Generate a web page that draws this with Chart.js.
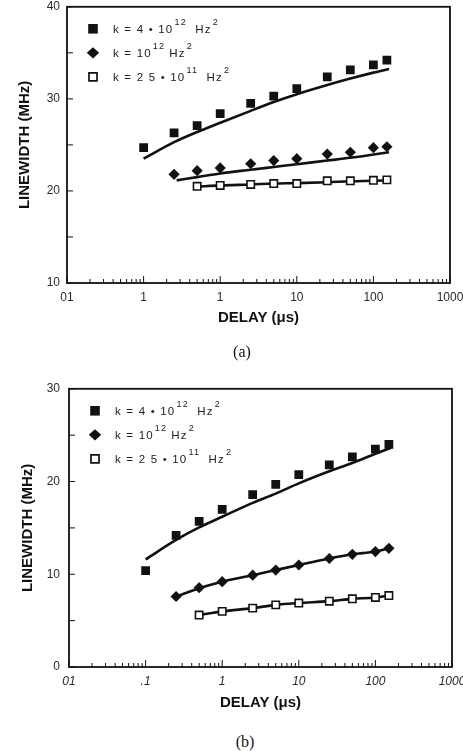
<!DOCTYPE html>
<html>
<head>
<meta charset="utf-8">
<title>Linewidth vs delay</title>
<script src="https://cdn.jsdelivr.net/npm/chart.js@4.4.1/dist/chart.umd.min.js"></script>
<style>
  body { margin: 0; background: #fff; width: 463px; height: 751px; position: relative; overflow: hidden; }
  .panel { position: absolute; left: 0; width: 463px; height: 345px; }
  #panelA { top: 0; }
  #panelB { top: 382px; }
  .caption { position: absolute; width: 40px; text-align: center; line-height: 18px;
             font-family: 'Liberation Serif', 'Times New Roman', serif; font-size: 16px; color: #111; }
</style>
</head>
<body>
<div class="panel" id="panelA"><canvas id="chartA"></canvas></div>
<div class="caption" style="left:222px; top:343px;">(a)</div>
<div class="panel" id="panelB"><canvas id="chartB"></canvas></div>
<div class="caption" style="left:225px; top:733px;">(b)</div>
<script>
// delays (µs) at which each k was measured
const delayK4   = [0.1, 0.25, 0.5, 1, 2.5, 5, 10, 25, 50, 100, 150];
const delayK1   = [0.25, 0.5, 1, 2.5, 5, 10, 25, 50, 100, 150];
const delayK025 = [0.5, 1, 2.5, 5, 10, 25, 50, 100, 150];

// delays used for the model curves
const fitDelayK4   = [0.1, 0.25, 0.5, 1, 2.5, 5, 10, 25, 50, 100, 160];
const fitDelayK1   = [0.27, 0.5, 1, 2.5, 5, 10, 25, 50, 100, 160];
const fitDelayK025 = [0.5, 1, 2.5, 5, 10, 25, 50, 100, 160];

// panel (a): measured linewidth, MHz
const widthA_k4   = [24.7, 26.3, 27.1, 28.4, 29.5, 30.3, 31.1, 32.4, 33.15, 33.7, 34.2];
const widthA_k1   = [21.8, 22.2, 22.5, 22.95, 23.3, 23.5, 24.0, 24.2, 24.7, 24.8];
const widthA_k025 = [20.5, 20.6, 20.7, 20.8, 20.8, 21.1, 21.1, 21.15, 21.2];
// panel (a): model
const fitA_k4   = [23.5, 25.3, 26.4, 27.4, 28.7, 29.65, 30.5, 31.5, 32.2, 32.85, 33.25];
const fitA_k1   = [21.15, 21.5, 21.9, 22.3, 22.6, 22.9, 23.3, 23.6, 23.95, 24.2];
const fitA_k025 = [20.45, 20.6, 20.7, 20.8, 20.85, 20.95, 21.05, 21.1, 21.15];

// panel (b): measured linewidth, MHz
const widthB_k4   = [10.4, 14.2, 15.7, 17.0, 18.6, 19.7, 20.75, 21.8, 22.65, 23.5, 24.0];
const widthB_k1   = [7.6, 8.55, 9.2, 9.9, 10.45, 11.0, 11.7, 12.15, 12.45, 12.8];
const widthB_k025 = [5.6, 6.0, 6.35, 6.7, 6.9, 7.1, 7.35, 7.5, 7.7];
// panel (b): model
const fitB_k4   = [11.6, 13.7, 15.05, 16.2, 17.7, 18.7, 19.8, 21.1, 22.0, 23.0, 23.65];
const fitB_k1   = [7.6, 8.5, 9.2, 9.9, 10.45, 11.0, 11.7, 12.15, 12.45, 12.8];
const fitB_k025 = [5.6, 6.0, 6.35, 6.7, 6.9, 7.1, 7.35, 7.5, 7.7];

// axis ticks
const xTickValues = [0.01, 0.1, 1, 10, 100, 1000];
const xTickLabelsA = ['01', '1', '1', '10', '100', '1000'];
const xTickLabelsB = ['01', '.1', '1', '10', '100', '1000'];

// legend rows: marker + text pieces (sup = superscript)
const legendRows = [
  { marker: 'square', parts: [['k = 4 \u2022 10'], ['12', 'sup'], [' Hz'], ['2', 'sup']] },
  { marker: 'diamond', parts: [['k = 10'], ['12', 'sup'], ['Hz'], ['2', 'sup']] },
  { marker: 'open', parts: [['k = 2 5 \u2022 10'], ['11', 'sup'], [' Hz'], ['2', 'sup']] }
];

const INK = '#111';
const SANS = "'Liberation Sans', Arial, Helvetica, sans-serif";

const pts = (xs, ys) => xs.map((x, i) => ({ x, y: ys[i] }));

/* Frame, inward ticks and the in-plot legend */
const framePlugin = {
  id: 'frame',
  afterDraw(chart) {
    const ctx = chart.ctx;
    const { left, right, top, bottom } = chart.chartArea;
    const xs = chart.scales.x, ys = chart.scales.y;
    ctx.save();
    ctx.strokeStyle = INK;

    // inward ticks on the log axis
    ctx.lineWidth = 1;
    const e0 = Math.round(Math.log10(xs.min)), e1 = Math.round(Math.log10(xs.max));
    for (let e = e0; e <= e1; e++) {
      for (let m = 1; m < 10; m++) {
        const v = m * Math.pow(10, e);
        if (v > xs.max) break;
        const px = xs.getPixelForValue(v);
        const len = m === 1 ? 7 : 4;
        ctx.beginPath();
        ctx.moveTo(px, bottom);
        ctx.lineTo(px, bottom - len);
        ctx.stroke();
      }
    }
    // inward ticks every 5 MHz
    for (let v = ys.min; v <= ys.max; v += 5) {
      const py = ys.getPixelForValue(v);
      ctx.beginPath();
      ctx.moveTo(left, py);
      ctx.lineTo(left + 6, py);
      ctx.stroke();
    }

    // box
    ctx.lineWidth = 1.8;
    ctx.strokeRect(left, top, right - left, bottom - top);

    // legend
    legendRows.forEach((row, i) => {
      const cy = top + 22 + i * 24;
      const mx = left + 26;
      ctx.fillStyle = INK;
      ctx.beginPath();
      if (row.marker === 'square') {
        ctx.rect(mx - 4.8, cy - 4.8, 9.6, 9.6);
        ctx.fill();
      } else if (row.marker === 'diamond') {
        ctx.moveTo(mx - 6.2, cy); ctx.lineTo(mx, cy - 5.6);
        ctx.lineTo(mx + 6.2, cy); ctx.lineTo(mx, cy + 5.6);
        ctx.closePath();
        ctx.fill();
      } else {
        ctx.lineWidth = 1.7;
        ctx.fillStyle = '#fff';
        ctx.rect(mx - 4, cy - 4, 8, 8);
        ctx.fill();
        ctx.stroke();
      }
      ctx.fillStyle = '#222';
      ctx.textBaseline = 'middle';
      ctx.textAlign = 'left';
      ctx.letterSpacing = '1.2px';
      let tx = left + 46;
      row.parts.forEach(([txt, kind]) => {
        if (kind === 'sup') {
          ctx.font = '9px ' + SANS;
          ctx.fillText(txt, tx + 1, cy - 6);
          tx += ctx.measureText(txt).width + 5;
        } else {
          ctx.font = '11.5px ' + SANS;
          ctx.fillText(txt, tx, cy + 1);
          tx += ctx.measureText(txt).width;
        }
      });
      ctx.letterSpacing = '0px';
    });
    ctx.restore();
  }
};

function lineSet(data) {
  return {
    data, showLine: true, fill: false, pointRadius: 0, borderColor: INK, borderWidth: 2.6,
    tension: 0.4, cubicInterpolationMode: 'monotone', order: 2
  };
}

function makeChart(canvasId, g) {
  return new Chart(document.getElementById(canvasId), {
    type: 'scatter',
    data: {
      datasets: [
        lineSet(pts(g.fitX[0], g.fit[0])),
        lineSet(pts(g.fitX[1], g.fit[1])),
        lineSet(pts(g.fitX[2], g.fit[2])),
        { data: pts(delayK4, g.meas[0]), pointStyle: 'rect', pointRadius: 6.2,
          backgroundColor: INK, borderColor: INK, borderWidth: 0, order: 0 },
        { data: pts(delayK1, g.meas[1]), pointStyle: 'rectRot', pointRadius: 5.6,
          backgroundColor: INK, borderColor: INK, borderWidth: 0, order: 0 },
        { data: pts(delayK025, g.meas[2]), pointStyle: 'rect', pointRadius: 5.2,
          backgroundColor: '#fff', borderColor: INK, borderWidth: 1.6, order: 0 }
      ]
    },
    options: {
      responsive: true,
      maintainAspectRatio: false,
      animation: false,
      events: [],
      layout: { padding: { top: g.padTop, right: g.padRight, left: 0, bottom: 0 } },
      plugins: { legend: { display: false }, tooltip: { enabled: false } },
      scales: {
        x: {
          type: 'logarithmic', min: 0.01, max: 1000,
          afterBuildTicks: s => { s.ticks = xTickValues.map(v => ({ value: v })); },
          afterFit: s => { s.height = g.xAxisHeight; s.paddingLeft = 0; s.paddingRight = 0; },
          grid: { display: false, drawTicks: false },
          border: { display: false },
          ticks: {
            autoSkip: false, maxRotation: 0, padding: 7, color: '#2a2a2a',
            font: { family: SANS, size: 12, style: g.xTickStyle },
            callback: (v, i) => g.xLabels[i]
          },
          title: {
            display: true, text: 'DELAY (\u03bcs)', color: INK,
            font: { family: SANS, size: 15, weight: 'bold' },
            padding: { top: 0, bottom: g.xTitlePad }
          }
        },
        y: {
          min: g.yMin, max: g.yMax,
          afterFit: s => { s.width = g.yAxisWidth; s.paddingTop = 0; s.paddingBottom = 0; },
          grid: { display: false, drawTicks: false },
          border: { display: false },
          ticks: { stepSize: 10, padding: g.yTickPad, color: '#2a2a2a', font: { family: SANS, size: 12 } },
          title: {
            display: true, text: 'LINEWIDTH (MHz)', color: INK,
            font: { family: SANS, size: 15, weight: 'bold' },
            padding: { top: g.yTitlePad, bottom: 0 }
          }
        }
      }
    },
    plugins: [framePlugin]
  });
}

makeChart('chartA', {
  meas: [widthA_k4, widthA_k1, widthA_k025],
  fit: [fitA_k4, fitA_k1, fitA_k025],
  fitX: [fitDelayK4, fitDelayK1, fitDelayK025],
  xLabels: xTickLabelsA, xTickStyle: 'normal',
  yMin: 10, yMax: 40,
  padTop: 6, padRight: 13, yAxisWidth: 67, xAxisHeight: 62,
  yTickPad: 7, yTitlePad: 16, xTitlePad: 18
});

makeChart('chartB', {
  meas: [widthB_k4, widthB_k1, widthB_k025],
  fit: [fitB_k4, fitB_k1, fitB_k025],
  fitX: [fitDelayK4, delayK1, delayK025],
  xLabels: xTickLabelsB, xTickStyle: 'italic',
  yMin: 0, yMax: 30,
  padTop: 6, padRight: 11, yAxisWidth: 69, xAxisHeight: 60,
  yTickPad: 9, yTitlePad: 19, xTitlePad: 15
});
</script>
</body>
</html>
